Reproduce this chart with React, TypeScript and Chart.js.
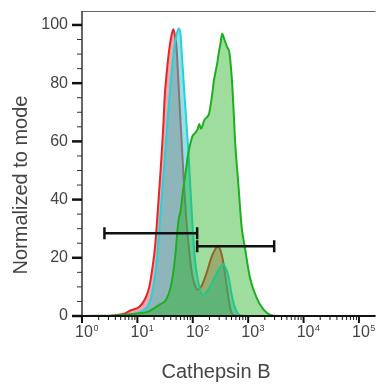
import React, { useEffect, useRef } from "react";
import { Chart, registerables } from "chart.js";

Chart.register(...registerables);

// Histogram bins (Cathepsin B intensity) and normalized counts
const redX = [1.13, 3.24, 3.97, 5.95, 7.29, 10.9, 13.9, 16.4, 18.5, 20.9, 22.7, 25.6, 29.7, 31.0, 34.0, 36.5, 40.0, 44.6, 48.0, 51.0, 56.9, 60.0, 65.0, 70.6, 76.5, 86.4, 97.6, 110, 119, 141, 172, 226, 288, 323, 362, 415, 475, 542, 711, 200000];
const redY = [0, 0, 0.3, 0.9, 1.8, 3.2, 6, 10, 16, 24, 33, 47, 67, 75, 84, 89.6, 95, 98.5, 96, 92, 75, 67, 55, 43, 33, 22, 14, 10.5, 9, 10, 14, 21, 24, 22, 17.5, 9.6, 2.7, 0.3, 0, 0];

const cyanX = [1.13, 5.95, 8.82, 12.4, 15.1, 17.4, 20.9, 23.1, 25.6, 30.1, 35.0, 37.9, 44.6, 50.0, 56.0, 60.0, 62.5, 71.4, 76.5, 83.0, 90.0, 97.6, 110, 124, 138, 151, 172, 211, 258, 304, 353, 387, 437, 508, 581, 711, 944, 200000];
const cyanY = [0, 0, 0.7, 1.8, 3.2, 5.8, 14, 22, 33, 50, 67, 75, 89.6, 96, 98.8, 97, 92, 75, 67, 57, 45, 33, 19, 12.3, 8.5, 7.2, 8, 10.5, 14, 16.5, 17.8, 16.8, 14, 7, 2.7, 0.3, 0, 0];

const greenX = [1.13, 4.48, 10.1, 15.1, 20.1, 25.6, 32.7, 40.0, 45.2, 49.0, 52.1, 55.4, 60.0, 67.7, 76.5, 83.0, 93.7, 100, 107, 123, 131, 141, 151, 161, 184, 197, 220, 241, 277, 292, 316, 339, 365, 415, 455, 475, 514, 548, 581, 664, 762, 871, 1067, 1400, 1830, 2570, 3600, 200000];
const greenY = [0, 0.3, 0.9, 1.4, 2.7, 4, 5.5, 10, 16, 22, 28, 33, 36, 44, 51, 56, 60.4, 62, 62.6, 64.3, 66, 64.3, 65.6, 67.3, 68.5, 69.6, 75, 81, 87, 90, 93.6, 97.1, 95.5, 92.5, 90.8, 88, 80, 70, 60, 45.5, 30.6, 23.7, 13.5, 6.6, 2.6, 0.3, 0, 0];

// Gates
const gateLowX = [2.54, 120];
const gateLowY = [28.4, 28.4];
const gateHighX = [120, 2950];
const gateHighY = [24, 24];

// Axis labels
const xDecades = [0, 1, 2, 3, 4, 5];
const yMajorTicks = [0, 20, 40, 60, 80, 100];
const xTitle = "Cathepsin B";
const yTitle = "Normalized to mode";

const FONT = "'Liberation Sans', Arial, Helvetica, sans-serif";
const TEXT = "#444";

const pts = (xs: number[], ys: number[]) => xs.map((x, i) => ({ x, y: ys[i] }));

const axesPlugin = {
  id: "flowAxes",
  afterDraw(chart: any) {
    const { ctx, chartArea } = chart;
    const xs = chart.scales.x;
    const ys = chart.scales.y;
    const left = chartArea.left;
    const top = chartArea.top;
    const right = chartArea.right;
    const y0 = ys.getPixelForValue(0);
    ctx.save();
    // frame top
    ctx.strokeStyle = "#666";
    ctx.lineWidth = 1;
    ctx.beginPath();
    ctx.moveTo(left, top + 0.5);
    ctx.lineTo(right, top + 0.5);
    ctx.stroke();
    // y axis line
    ctx.strokeStyle = "#333";
    ctx.lineWidth = 1.5;
    ctx.beginPath();
    ctx.moveTo(left, top);
    ctx.lineTo(left, y0 + 2);
    ctx.stroke();
    // y ticks
    for (let v = 0; v <= 100; v += 5) {
      const py = ys.getPixelForValue(v);
      const major = v % 20 === 0;
      ctx.strokeStyle = major ? "#111" : "#333";
      ctx.lineWidth = major ? 2.5 : 1;
      ctx.beginPath();
      ctx.moveTo(left - (major ? 10 : 5), py);
      ctx.lineTo(left, py);
      ctx.stroke();
    }
    // x axis line
    ctx.strokeStyle = "#111";
    ctx.lineWidth = 2;
    ctx.beginPath();
    ctx.moveTo(left - 9, y0);
    ctx.lineTo(right, y0);
    ctx.stroke();
    // x ticks
    for (const k of xDecades) {
      for (let m = 1; m <= 9; m++) {
        const v = m * Math.pow(10, k);
        if (v > xs.max) continue;
        const px = xs.getPixelForValue(v);
        const major = m === 1;
        ctx.strokeStyle = "#111";
        ctx.lineWidth = major ? 2 : 1;
        ctx.beginPath();
        ctx.moveTo(px, y0);
        ctx.lineTo(px, y0 + (major ? 7 : 4));
        ctx.stroke();
      }
    }
    // x labels 10^k
    ctx.fillStyle = TEXT;
    ctx.textBaseline = "alphabetic";
    for (const k of xDecades) {
      const px = xs.getPixelForValue(Math.pow(10, k)) + 2;
      ctx.font = `16px ${FONT}`;
      ctx.textAlign = "center";
      const w = ctx.measureText("10").width;
      ctx.fillText("10", px, 337);
      ctx.font = `9px ${FONT}`;
      ctx.textAlign = "left";
      ctx.fillText(String(k), px + w / 2 + 0.5, 331);
    }
    // titles
    ctx.font = `20px ${FONT}`;
    ctx.textAlign = "center";
    ctx.fillText(xTitle, 216, 378);
    ctx.translate(27, 185);
    ctx.rotate(-Math.PI / 2);
    ctx.fillText(yTitle, 0, 0);
    ctx.restore();
  },
};

export default function App() {
  const ref = useRef<HTMLCanvasElement | null>(null);
  useEffect(() => {
    if (!ref.current) return;
    const common = {
      pointRadius: 0,
      borderWidth: 2,
      cubicInterpolationMode: "monotone" as const,
      fill: "origin",
    };
    const gate = {
      borderColor: "#111",
      borderWidth: 2.5,
      pointStyle: "line",
      rotation: 90,
      pointRadius: 6,
      pointBorderWidth: 2.5,
      pointBorderColor: "#111",
      fill: false,
      order: 0,
    };
    const chart = new Chart(ref.current, {
      type: "line",
      data: {
        datasets: [
          { ...gate, label: "gate1", data: pts(gateLowX, gateLowY) } as any,
          { ...gate, label: "gate2", data: pts(gateHighX, gateHighY) } as any,
          {
            ...common,
            label: "green",
            data: pts(greenX, greenY),
            borderColor: "#1fae1f",
            backgroundColor: "rgba(40,180,40,0.45)",
            order: 1,
          } as any,
          {
            ...common,
            label: "cyan",
            data: pts(cyanX, cyanY),
            borderColor: "#22d3dc",
            backgroundColor: "rgba(40,195,205,0.5)",
            order: 2,
          } as any,
          {
            ...common,
            label: "red",
            data: pts(redX, redY),
            borderColor: "#e3262b",
            backgroundColor: "rgba(232,45,45,0.42)",
            order: 3,
          } as any,
        ],
      },
      options: {
        animation: false,
        responsive: false,
        maintainAspectRatio: false,
        layout: { padding: { top: 11, right: 0, left: 0, bottom: 0 } },
        plugins: { legend: { display: false }, tooltip: { enabled: false } },
        scales: {
          x: {
            type: "logarithmic",
            min: 1,
            max: 199000,
            grid: { display: false, drawTicks: false },
            border: { display: false },
            ticks: { display: false },
            afterFit: (s: any) => {
              s.height = 68;
              s.paddingLeft = 0;
              s.paddingRight = 0;
              s.paddingTop = 0;
              s.paddingBottom = 0;
            },
          },
          y: {
            type: "linear",
            min: 0,
            max: 104.8,
            grid: { display: false, drawTicks: false },
            border: { display: false },
            afterBuildTicks: (s: any) => {
              s.ticks = yMajorTicks.map((v) => ({ value: v }));
            },
            ticks: {
              padding: 14,
              color: TEXT,
              font: { family: FONT, size: 16 },
            },
            afterFit: (s: any) => {
              s.width = 82;
              s.paddingTop = 0;
              s.paddingBottom = 0;
              s.paddingLeft = 0;
              s.paddingRight = 0;
            },
          },
        },
      },
      plugins: [axesPlugin],
    });
    return () => chart.destroy();
  }, []);
  return (
    <div style={{ position: "absolute", left: 0, top: 0, width: 384, height: 384, background: "#fff" }}>
      <canvas ref={ref} width={384} height={384} />
    </div>
  );
}
